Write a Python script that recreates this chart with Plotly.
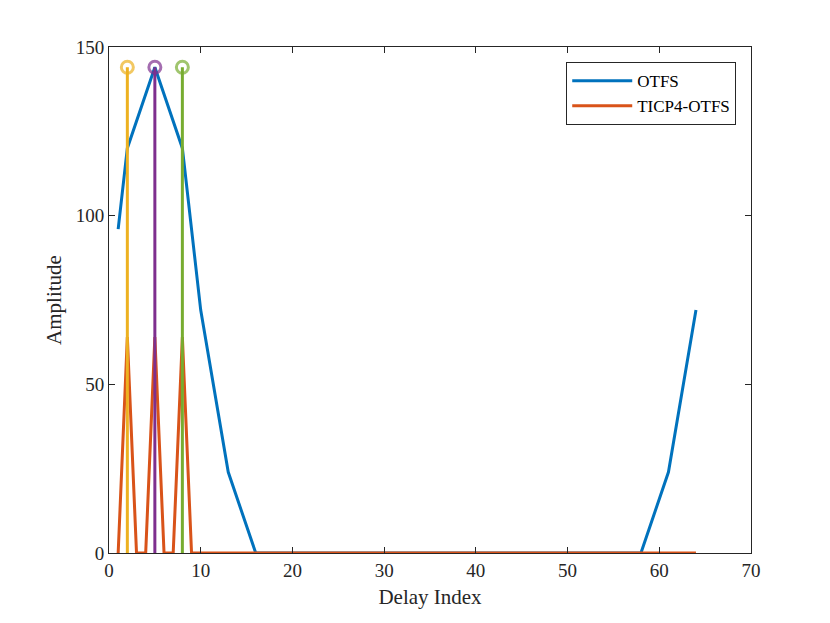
import plotly.graph_objects as go

# Data
otfs_x = [1, 2, 5, 8, 10, 13, 16, 58, 61, 64]
otfs_y = [96, 120, 144, 120, 72, 24, 0, 0, 24, 72]

ticp_x = [1, 2, 3, 4, 5, 6, 7, 8, 9, 64]
ticp_y = [0, 64, 0, 0, 64, 0, 0, 64, 0, 0]

stem_x = [2, 5, 8]
stem_y = [144, 144, 144]
stem_colors = ["#EDB120", "#7E2F8E", "#77AC30"]

fig = go.Figure()
fig.add_trace(go.Scatter(x=otfs_x, y=otfs_y, mode="lines", name="OTFS",
                         line=dict(color="#0072BD", width=3)))
fig.add_trace(go.Scatter(x=ticp_x, y=ticp_y, mode="lines", name="TICP4-OTFS",
                         line=dict(color="#D95319", width=3)))
for sx, sy, c in zip(stem_x, stem_y, stem_colors):
    fig.add_trace(go.Scatter(x=[sx, sx], y=[0, sy], mode="lines+markers",
                             showlegend=False,
                             line=dict(color=c, width=3),
                             marker=dict(symbol="circle-open", size=[0, 12],
                                         color=c, line=dict(width=3, color=c))))

axis_common = dict(showline=True, linecolor="#262626", linewidth=1, mirror="ticks",
                   ticks="inside", ticklen=6, tickcolor="#262626", showgrid=False,
                   zeroline=False, tickfont=dict(family="Liberation Serif", size=19, color="#262626"))

fig.update_layout(
    width=830, height=623,
    paper_bgcolor="white", plot_bgcolor="white",
    margin=dict(l=101, r=87, t=39, b=78),
    font=dict(family="Liberation Serif", size=19, color="#262626"),
    xaxis=dict(range=[0, 70], dtick=10,
               title=dict(text="Delay Index", font=dict(family="Liberation Serif", size=21), standoff=9),
               **axis_common),
    yaxis=dict(range=[0, 150], dtick=50,
               title=dict(text="Amplitude", font=dict(family="Liberation Serif", size=21), standoff=8),
               **axis_common),
    legend=dict(x=0.977, y=0.97, xanchor="right", yanchor="top",
                bgcolor="white", bordercolor="#262626", borderwidth=1,
                font=dict(family="Liberation Serif", size=17, color="black"),
                itemwidth=60, tracegroupgap=0, traceorder="normal"),
)

fig.write_html("out.html")
